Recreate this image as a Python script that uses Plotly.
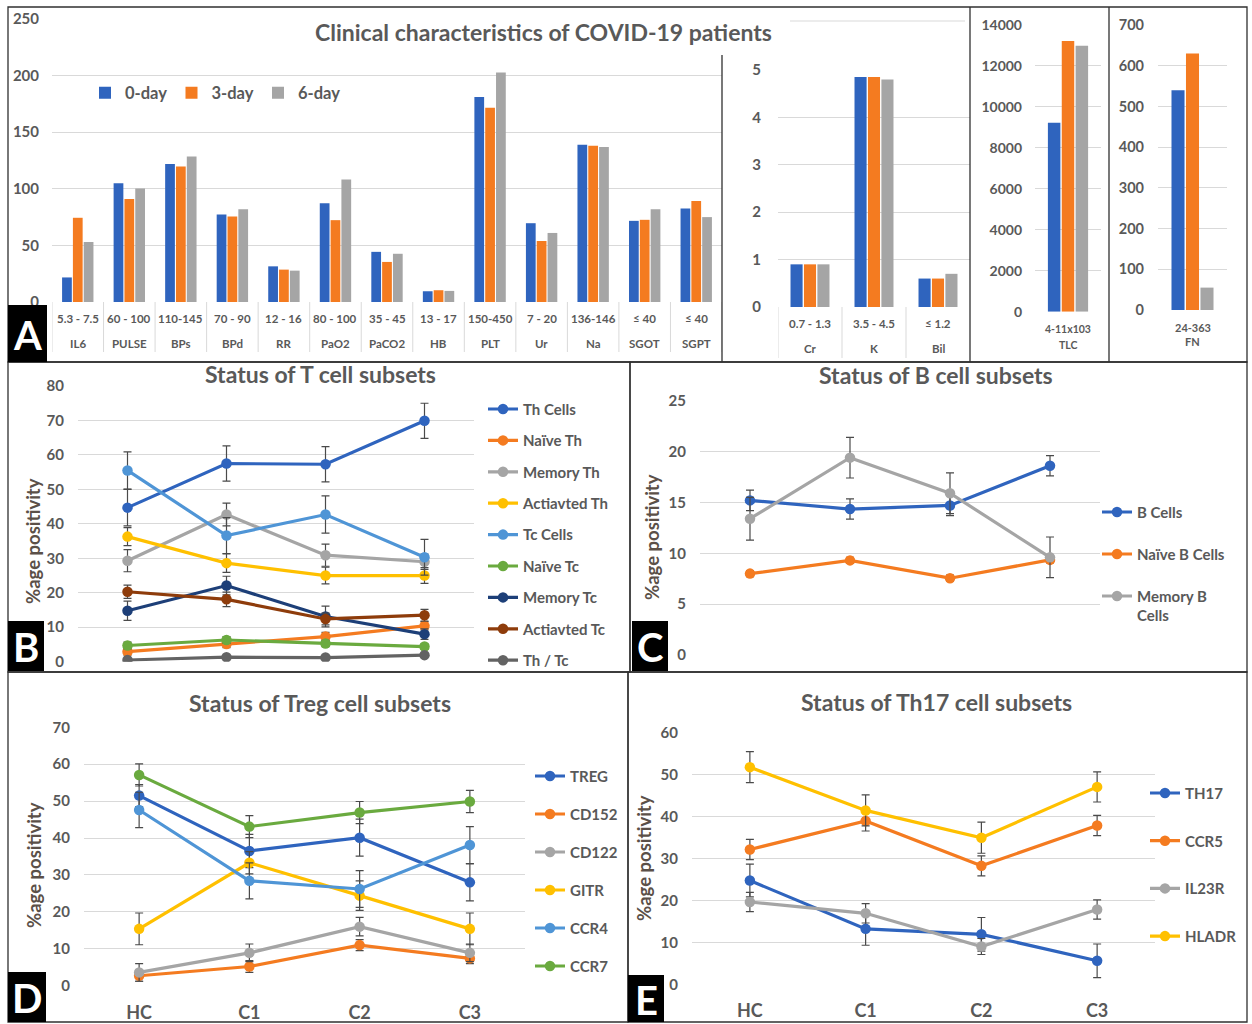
import plotly.graph_objects as go

W, H = 1252, 1024
FONT = "Lato"
TXT = "#595959"
YT = "#5B5048"
GRID = "#D9D9D9"
BORDER = "#303030"
ERR = "#4A4A4A"

BLUE = "#2F64BE"
ORANGE = "#F47B20"
GRAY = "#A5A5A5"
GOLD = "#FFC000"
LBLUE = "#4F95D6"
GREEN = "#6AAA3F"
DBLUE = "#1D3F78"
BROWN = "#8E3C0B"
DGRAY = "#636363"

def fx(p):
    return p / W

def fy(p):
    return 1 - p / H

# ---------------- data ----------------
# Panel A - clinical characteristics
a_names = ["IL6", "PULSE", "BPs", "BPd", "RR", "PaO2", "PaCO2", "HB", "PLT", "Ur", "Na", "SGOT", "SGPT"]
a_ranges = ["5.3 - 7.5", "60 - 100", "110-145", "70 - 90", "12 - 16", "80 - 100", "35 - 45",
            "13 - 17", "150-450", "7 - 20", "136-146", "≤ 40", "≤ 40"]
a_day0 = [21.7, 104.8, 122.0, 77.4, 31.5, 87.2, 44.3, 9.5, 181.0, 69.6, 139.0, 71.7, 82.7]
a_day3 = [74.4, 91.0, 119.6, 75.6, 28.6, 72.3, 35.4, 10.4, 171.7, 53.9, 138.0, 72.6, 89.3]
a_day6 = [53.0, 100.3, 128.6, 82.0, 27.7, 108.3, 42.6, 9.8, 202.7, 61.0, 137.0, 82.0, 75.0]

b_names = ["Cr", "K", "Bil"]
b_ranges = ["0.7 - 1.3", "3.5 - 4.5", "≤ 1.2"]
b_day0 = [0.9, 4.85, 0.6]
b_day3 = [0.9, 4.85, 0.6]
b_day6 = [0.9, 4.8, 0.7]

tlc_names = ["TLC"]
tlc_ranges = ["4-11x103"]
tlc_day0 = [9230]
tlc_day3 = [13220]
tlc_day6 = [12990]

fn_names = ["FN"]
fn_ranges = ["24-363"]
fn_day0 = [540]
fn_day3 = [630]
fn_day6 = [55]

day_labels = ["0-day", "3-day", "6-day"]

groups = ["HC", "C1", "C2", "C3"]

# Panel B - T cell subsets (mean, error)
th_cells = [44.7, 57.5, 57.3, 69.9];   th_cells_e = [5.3, 5.1, 5.1, 5.1]
naive_th = [2.9, 5.1, 7.3, 10.4];      naive_th_e = [1.0, 1.0, 1.2, 1.2]
memory_th = [29.3, 42.7, 30.9, 29.0];  memory_th_e = [3.2, 3.3, 3.2, 2.2]
act_th = [36.3, 28.6, 25.0, 25.0];     act_th_e = [2.6, 2.7, 2.4, 2.3]
tc_cells = [55.5, 36.6, 42.7, 30.3];   tc_cells_e = [5.4, 5.2, 5.4, 5.2]
naive_tc = [4.7, 6.3, 5.3, 4.4];       naive_tc_e = [1.0, 1.0, 0.9, 0.8]
memory_tc = [14.8, 22.1, 13.1, 8.0];   memory_tc_e = [2.8, 2.7, 3.0, 1.5]
act_tc = [20.3, 18.1, 12.4, 13.5];     act_tc_e = [1.9, 2.1, 1.7, 1.7]
th_tc = [0.5, 1.3, 1.2, 1.9];          th_tc_e = [0.3, 0.4, 0.4, 0.5]

# Panel C - B cell subsets
b_cells = [15.2, 14.35, 14.7, 18.6];   b_cells_e = [1.0, 1.0, 1.0, 1.0]
naive_b = [8.0, 9.3, 7.55, 9.35];      naive_b_e = [0.3, 0.3, 0.3, 0.3]
memory_b = [13.4, 19.4, 15.9, 9.6];    memory_b_e = [2.1, 2.0, 2.0, 2.0]

# Panel D - Treg cell subsets
treg = [51.5, 36.5, 40.1, 28.0];       treg_e = [3.0, 4.5, 5.0, 5.0]
cd152 = [2.7, 5.2, 11.0, 7.4];         cd152_e = [1.5, 1.6, 1.5, 1.4]
cd122 = [3.6, 8.9, 16.0, 8.9];         cd122_e = [2.4, 2.4, 2.5, 2.4]
gitr = [15.4, 33.3, 24.4, 15.4];       gitr_e = [4.3, 3.0, 4.0, 4.3]
ccr4 = [47.6, 28.4, 26.2, 38.1];       ccr4_e = [4.8, 4.9, 5.0, 5.0]
ccr7 = [57.1, 43.1, 46.9, 49.9];       ccr7_e = [3.0, 3.0, 3.0, 3.0]

# Panel E - Th17 cell subsets
th17 = [24.7, 13.2, 11.9, 5.6];        th17_e = [3.9, 3.9, 4.0, 4.0]
ccr5 = [32.1, 38.9, 28.2, 37.8];       ccr5_e = [2.4, 2.4, 2.4, 2.4]
il23r = [19.6, 16.9, 9.0, 17.8];       il23r_e = [2.3, 2.3, 1.9, 2.3]
hladr = [51.7, 41.4, 34.9, 47.0];      hladr_e = [3.7, 3.7, 3.7, 3.6]

# ---------------- figure ----------------
fig = go.Figure()
day_colors = [BLUE, ORANGE, GRAY]

bar_sets = [
    (a_names, [a_day0, a_day3, a_day6], "x", "y", True),
    (b_names, [b_day0, b_day3, b_day6], "x2", "y2", False),
    (tlc_names, [tlc_day0, tlc_day3, tlc_day6], "x3", "y3", False),
    (fn_names, [fn_day0, fn_day3, fn_day6], "x4", "y4", False),
]
for names, series, xa, ya, show in bar_sets:
    for lab, vals, col in zip(day_labels, series, day_colors):
        fig.add_trace(go.Bar(x=names, y=vals, name=lab, marker=dict(color=col, line=dict(width=0)),
                             xaxis=xa, yaxis=ya, showlegend=show, legend="legend",
                             legendgroup=lab, hoverinfo="skip"))

def add_lines(specs, xa, ya, leg):
    for name, vals, errs, col in specs:
        fig.add_trace(go.Scatter(
            x=groups, y=vals, name=name, mode="lines+markers",
            line=dict(color=col, width=3.2), marker=dict(color=col, size=10.5),
            error_y=dict(type="data", array=errs, visible=True, color=ERR, thickness=1.2, width=4),
            xaxis=xa, yaxis=ya, legend=leg, legendgroup=name, hoverinfo="skip"))

add_lines([
    ("Th Cells", th_cells, th_cells_e, BLUE),
    ("Naïve Th", naive_th, naive_th_e, ORANGE),
    ("Memory Th", memory_th, memory_th_e, GRAY),
    ("Actiavted Th", act_th, act_th_e, GOLD),
    ("Tc Cells", tc_cells, tc_cells_e, LBLUE),
    ("Naïve Tc", naive_tc, naive_tc_e, GREEN),
    ("Memory Tc", memory_tc, memory_tc_e, DBLUE),
    ("Actiavted Tc", act_tc, act_tc_e, BROWN),
    ("Th / Tc", th_tc, th_tc_e, DGRAY),
], "x5", "y5", "legend2")

add_lines([
    ("B Cells", b_cells, b_cells_e, BLUE),
    ("Naïve B Cells", naive_b, naive_b_e, ORANGE),
    ("Memory B<br>Cells", memory_b, memory_b_e, GRAY),
], "x6", "y6", "legend3")

add_lines([
    ("TREG", treg, treg_e, BLUE),
    ("CD152", cd152, cd152_e, ORANGE),
    ("CD122", cd122, cd122_e, GRAY),
    ("GITR", gitr, gitr_e, GOLD),
    ("CCR4", ccr4, ccr4_e, LBLUE),
    ("CCR7", ccr7, ccr7_e, GREEN),
], "x7", "y7", "legend4")

add_lines([
    ("TH17", th17, th17_e, BLUE),
    ("CCR5", ccr5, ccr5_e, ORANGE),
    ("IL23R", il23r, il23r_e, GRAY),
    ("HLADR", hladr, hladr_e, GOLD),
], "x8", "y8", "legend5")

# ---------------- axes ----------------
def xcat(x0, x1, n, anchor, show=False):
    d = dict(domain=[fx(x0), fx(x1)], anchor=anchor, type="category", range=[-0.5, n - 0.5],
             showgrid=False, zeroline=False, showline=False, ticks="", showticklabels=show,
             fixedrange=True)
    if show:
        d["tickfont"] = dict(family=FONT, size=18, color=TXT, weight="bold")
        d["ticklabelstandoff"] = 14
    return d

def ylin(bottom, top, rng, dtick, anchor, size=15, standoff=13):
    return dict(domain=[fy(bottom), fy(top)], anchor=anchor, range=rng, dtick=dtick, tick0=0,
                showgrid=True, gridcolor=GRID, gridwidth=1, zeroline=False, showline=False,
                ticks="", tickformat="d",
                tickfont=dict(family=FONT, size=size, color=TXT, weight="bold"),
                ticklabelstandoff=standoff, fixedrange=True)

fig.update_layout(
    xaxis=xcat(52, 722, len(a_names), "y"),
    yaxis=ylin(302, 19, [0, 250], 50, "x", size=15, standoff=12),
    xaxis2=xcat(778, 970, len(b_names), "y2"),
    yaxis2=ylin(307, 70, [0, 5], 1, "x2", size=15, standoff=16),
    xaxis3=xcat(1035, 1101, 1, "y3"),
    yaxis3=ylin(311.7, 25, [0, 14000], 2000, "x3", size=14, standoff=12),
    xaxis4=xcat(1158, 1227, 1, "y4"),
    yaxis4=ylin(310, 25, [0, 700], 100, "x4", size=14.5, standoff=13),
    xaxis5=xcat(78, 474, 4, "y5"),
    yaxis5=ylin(661.7, 386, [0, 80], 10, "x5"),
    xaxis6=xcat(700, 1100, 4, "y6"),
    yaxis6=ylin(655, 400.7, [0, 25], 5, "x6"),
    xaxis7=xcat(84, 525, 4, "y7", show=True),
    yaxis7=ylin(985.7, 727.3, [0, 70], 10, "x7"),
    xaxis8=xcat(692, 1155, 4, "y8", show=True),
    yaxis8=ylin(984.3, 732.3, [0, 60], 10, "x8"),
)

# ---------------- legends ----------------
def leg(x, y, gap, size=15, **kw):
    d = dict(x=fx(x), y=fy(y), xanchor="left", yanchor="top", bgcolor="rgba(0,0,0,0)",
             borderwidth=0, font=dict(family=FONT, size=size, color=TXT, weight="bold"),
             traceorder="grouped", tracegroupgap=gap, itemclick=False, itemdoubleclick=False)
    d.update(kw)
    return d

fig.update_layout(
    legend=dict(x=fx(85), y=fy(93), xanchor="left", yanchor="middle", orientation="h",
                bgcolor="rgba(0,0,0,0)", borderwidth=0,
                font=dict(family=FONT, size=16.5, color=TXT, weight="bold"),
                traceorder="normal", entrywidth=41.5, entrywidthmode="pixels",
                itemclick=False, itemdoubleclick=False),
    legend2=leg(483, 392.75, 8.9),
    legend3=leg(1097, 495.75, 19.5, valign="top"),
    legend4=leg(530, 759.75, 15.5),
    legend5=leg(1145, 776.75, 25.2),
)

# ---------------- annotations ----------------
ann = []
def text(x, y, s, size, color=TXT, xref="paper", angle=0, weight="bold", xanchor="center"):
    ann.append(dict(x=x if xref != "paper" else fx(x), y=fy(y), xref=xref, yref="paper", text=s,
                    showarrow=False, xanchor=xanchor, yanchor="middle", textangle=angle,
                    font=dict(family=FONT, size=size, color=color, weight=weight)))

# titles
text(543, 32, "Clinical characteristics of COVID-19 patients", 23)
text(320, 374, "Status of T cell subsets", 23)
text(936, 375, "Status of B cell subsets", 23)
text(320, 703, "Status of Treg cell subsets", 23)
text(936, 702, "Status of Th17 cell subsets", 23)

# y-axis titles
text(33, 541, "%age positivity", 18.5, color=YT, angle=-90)
text(652, 537, "%age positivity", 18.5, color=YT, angle=-90)
text(34, 865, "%age positivity", 18.5, color=YT, angle=-90)
text(644, 858, "%age positivity", 18.5, color=YT, angle=-90)

# category labels of the bar charts
for nm, rg in zip(a_names, a_ranges):
    text(nm, 318, rg, 11.5, xref="x")
    text(nm, 343, nm, 11.5, xref="x")
for nm, rg in zip(b_names, b_ranges):
    text(nm, 323, rg, 11.5, xref="x2")
    text(nm, 348, nm, 11.5, xref="x2")
for nm, rg in zip(tlc_names, tlc_ranges):
    text(nm, 329, rg, 10.5, xref="x3")
    text(nm, 345, nm, 10.5, xref="x3")
for nm, rg in zip(fn_names, fn_ranges):
    text(nm, 327, rg, 11, xref="x4")
    text(nm, 341, nm, 11, xref="x4")

# panel letters
letters = [("A", 8, 305, 47, 362), ("B", 8, 621, 44, 671), ("C", 632, 621, 668, 671),
           ("D", 8, 972, 46, 1022), ("E", 628, 975, 664, 1022)]
for lt, x0, y0, x1, y1 in letters:
    text((x0 + x1) / 2, (y0 + y1) / 2 + 1, lt, 40, color="white")

fig.update_layout(annotations=ann)

# ---------------- shapes ----------------
shapes = []
def line(x0, y0, x1, y1, color=BORDER, width=1.3):
    shapes.append(dict(type="line", xref="paper", yref="paper", x0=fx(x0), y0=fy(y0),
                       x1=fx(x1), y1=fy(y1), line=dict(color=color, width=width), layer="above"))

def rect(x0, y0, x1, y1, fill=None, color=BORDER, width=1.3, layer="above"):
    shapes.append(dict(type="rect", xref="paper", yref="paper", x0=fx(x0), y0=fy(y0),
                       x1=fx(x1), y1=fy(y1),
                       fillcolor=fill if fill else "rgba(0,0,0,0)",
                       line=dict(color=color, width=width if not fill else 0), layer=layer))

# title background hiding the top gridline, plus the gridline continuing behind the inset
rect(298, 14, 722, 26, fill="white")
line(790, 21, 965, 21, color=GRID, width=1)

# category separators
for i in range(len(a_names) + 1):
    shapes.append(dict(type="line", xref="x", yref="paper", x0=i - 0.5, x1=i - 0.5,
                       y0=fy(302), y1=fy(352), line=dict(color=GRID, width=1)))
for i in range(len(b_names)):
    shapes.append(dict(type="line", xref="x2", yref="paper", x0=i - 0.5, x1=i - 0.5,
                       y0=fy(307), y1=fy(358), line=dict(color=GRID, width=1)))

# panel frames
rect(8, 7, 1247, 362)
line(722, 55, 722, 362)
line(970, 7, 970, 362)
line(1109, 7, 1109, 362)
rect(8, 362, 630, 672)
rect(630, 362, 1247, 672)
rect(8, 672, 628, 1022)
rect(628, 672, 1247, 1022)

# letter boxes
for lt, x0, y0, x1, y1 in letters:
    rect(x0, y0, x1, y1, fill="black")

fig.update_layout(shapes=shapes)

fig.update_layout(
    width=W, height=H, margin=dict(l=0, r=0, t=0, b=0, pad=0, autoexpand=False),
    paper_bgcolor="white", plot_bgcolor="rgba(0,0,0,0)",
    barmode="group", bargap=0.37, bargroupgap=0.1,
    font=dict(family=FONT, color=TXT),
)

fig.write_html("out.html", config={"displayModeBar": False, "staticPlot": True},
               post_script="document.body.style.margin='0px';document.body.style.padding='0px';")
